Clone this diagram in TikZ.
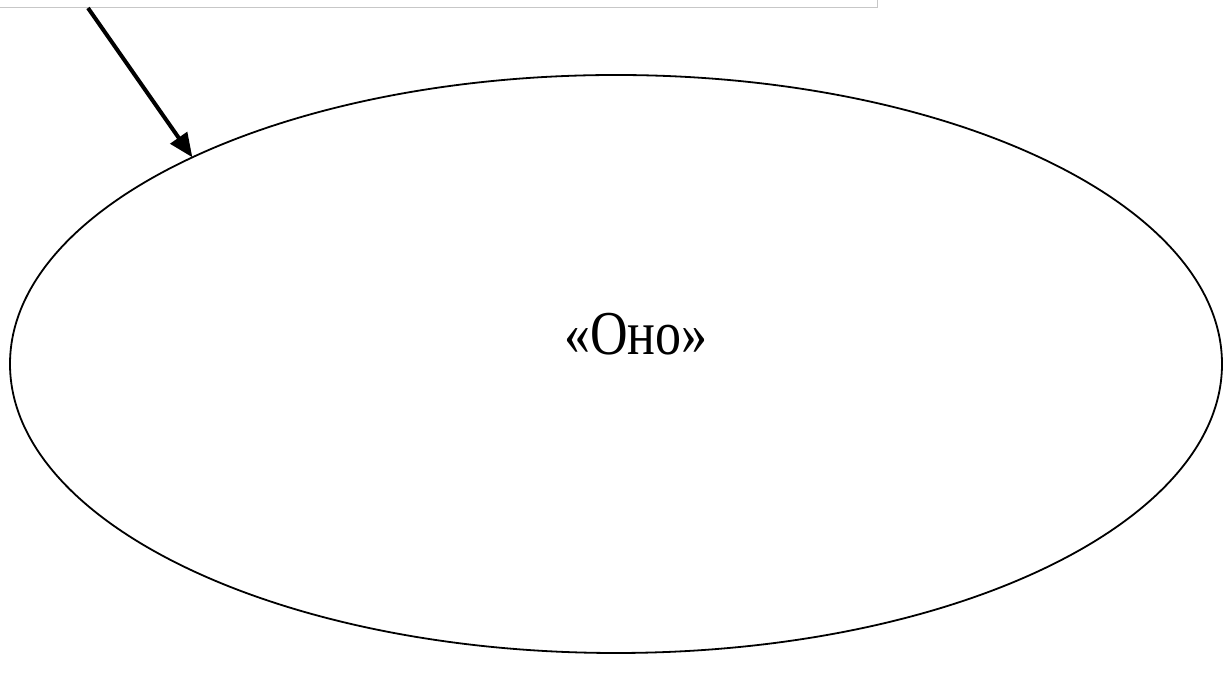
\documentclass[tikz,border=0pt]{standalone}
\usepackage{fontspec}
\setmainfont{Liberation Serif}
\usetikzlibrary{shapes.geometric,arrows.meta}
\begin{document}
\begin{tikzpicture}[x=1pt,y=1pt,
  oval/.style={ellipse,draw=black,line width=1.8pt,minimum width=1212pt,minimum height=578pt,inner sep=0pt,outer sep=0pt},
  frame/.style={draw=black!22,line width=1pt},
  link/.style={draw=black,line width=4pt,-{Triangle[length=24pt,width=20pt]}}]
\useasboundingbox (0,0) rectangle (1224,684);
\draw[frame] (0,676) -- (877,676) -- (877,684);
\node[oval] (e) at (616,320) {};
\node[font=\fontsize{52}{60}\selectfont] (t) at (636,350) {\scalebox{1}[1.2]{«Оно»}};
\coordinate (src) at (88,676);
\draw[link] (src) -- (e.154.5);
\end{tikzpicture}
\end{document}
